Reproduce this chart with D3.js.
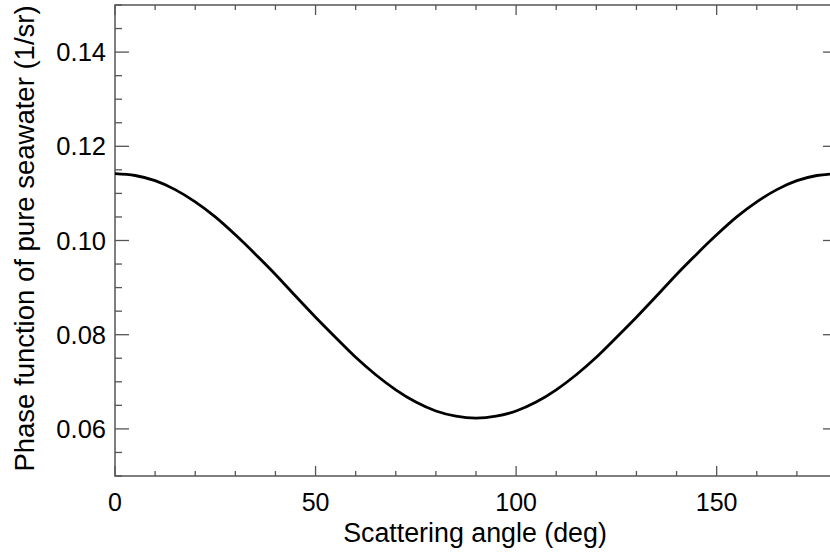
<!DOCTYPE html>
<html>
<head>
<meta charset="utf-8">
<script src="https://cdn.jsdelivr.net/npm/d3@7"></script>
<style>
  body { margin: 0; background: #fff; }
  svg { display: block; }
  text { font-family: "Liberation Sans", Arial, Helvetica, sans-serif; fill: #000; }
</style>
</head>
<body>
<div id="chart"></div>
<script>
// scattering angle (deg) and phase function
const angles = [0, 5, 10, 15, 20, 25, 30, 35, 40, 45, 50, 55, 60, 65, 70, 75, 80, 85, 90,
                95, 100, 105, 110, 115, 120, 125, 130, 135, 140, 145, 150, 155, 160, 165, 170, 175, 180];
const phase = [0.1142, 0.1138, 0.1127, 0.1108, 0.1082, 0.1050, 0.1012, 0.0971, 0.0928, 0.0882,
               0.0837, 0.0794, 0.0752, 0.0715, 0.0683, 0.0657, 0.0638, 0.0627, 0.0623,
               0.0627, 0.0638, 0.0657, 0.0683, 0.0715, 0.0752, 0.0794, 0.0837, 0.0882, 0.0928,
               0.0971, 0.1012, 0.1050, 0.1082, 0.1108, 0.1127, 0.1138, 0.1142];
const xTicks = [0, 50, 100, 150];
const yTicks = [0.06, 0.08, 0.10, 0.12, 0.14];

const width = 830, height = 552;
const margin = { left: 115, top: 5, right: -7, bottom: 76 };

const svg = d3.select("#chart").append("svg")
  .attr("width", width)
  .attr("height", height);

const x = d3.scaleLinear().domain([0, 180]).range([margin.left, width - margin.right]);
const y = d3.scaleLinear().domain([0.05, 0.15]).range([height - margin.bottom, margin.top]);

const axisColor = "#555";
const g = svg.append("g");

// frame
g.append("rect")
  .attr("x", x(0)).attr("y", y(0.15))
  .attr("width", x(180) - x(0)).attr("height", y(0.05) - y(0.15))
  .attr("fill", "none").attr("stroke", axisColor).attr("stroke-width", 1.5);

// x ticks (bottom + top)
const xMinor = d3.range(0, 181, 10);
xMinor.forEach(v => {
  const major = v % 50 === 0;
  const len = major ? 10 : 5;
  g.append("line").attr("x1", x(v)).attr("x2", x(v))
    .attr("y1", y(0.05)).attr("y2", y(0.05) - len)
    .attr("stroke", axisColor).attr("stroke-width", 1.3);
  g.append("line").attr("x1", x(v)).attr("x2", x(v))
    .attr("y1", y(0.15)).attr("y2", y(0.15) + len)
    .attr("stroke", axisColor).attr("stroke-width", 1.3);
});

// y ticks (left + right)
const yMinor = d3.range(0, 21).map(i => 0.05 + i * 0.005);
yMinor.forEach((v, i) => {
  const major = i % 4 === 2;
  const len = major ? 14 : 7;
  g.append("line").attr("x1", x(0)).attr("x2", x(0) + len)
    .attr("y1", y(v)).attr("y2", y(v))
    .attr("stroke", axisColor).attr("stroke-width", 1.3);
  g.append("line").attr("x1", x(180)).attr("x2", x(180) - len)
    .attr("y1", y(v)).attr("y2", y(v))
    .attr("stroke", axisColor).attr("stroke-width", 1.3);
});

// tick labels
g.selectAll(".xl").data(xTicks).join("text")
  .attr("class", "xl")
  .attr("x", d => x(d)).attr("y", 511)
  .attr("text-anchor", "middle")
  .attr("font-size", 25)
  .text(d => d);

g.selectAll(".yl").data(yTicks).join("text")
  .attr("class", "yl")
  .attr("x", 106).attr("y", d => y(d) + 9)
  .attr("text-anchor", "end")
  .attr("font-size", 25.5)
  .text(d => d3.format(".2f")(d));

// axis titles
svg.append("text")
  .attr("x", 475).attr("y", 542)
  .attr("text-anchor", "middle")
  .attr("font-size", 26.8)
  .text("Scattering angle (deg)");

svg.append("text")
  .attr("transform", `translate(34,${(y(0.05) + y(0.15)) / 2 - 2}) rotate(-90)`)
  .attr("text-anchor", "middle")
  .attr("font-size", 27.5)
  .text("Phase function of pure seawater (1/sr)");

// curve
const line = d3.line()
  .x((d, i) => x(angles[i]))
  .y(d => y(d))
  .curve(d3.curveMonotoneX);

svg.append("path")
  .datum(phase)
  .attr("d", line)
  .attr("fill", "none")
  .attr("stroke", "#000")
  .attr("stroke-width", 2.8);
</script>
</body>
</html>
